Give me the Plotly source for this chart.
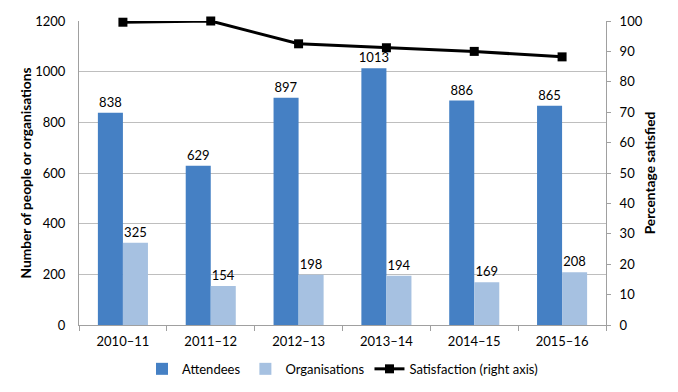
import plotly.graph_objects as go

categories = ["2010–11", "2011–12", "2012–13", "2013–14", "2014–15", "2015–16"]
attendees = [838, 629, 897, 1013, 886, 865]
organisations = [325, 154, 198, 194, 169, 208]
satisfaction = [99.6, 100, 92.5, 91.2, 90.0, 88.2]

FONT = "Lato, Open Sans, sans-serif"

fig = go.Figure()
fig.add_trace(go.Bar(
    x=categories, y=attendees, name="Attendees",
    marker=dict(color="#4580C4", line=dict(width=0)),
    text=[str(v) for v in attendees], textposition="outside",
    constraintext="none",
    textfont=dict(size=13, color="#000000", family=FONT), cliponaxis=False,
))
fig.add_trace(go.Bar(
    x=categories, y=organisations, name="Organisations",
    marker=dict(color="#A6C1E1", line=dict(width=0)),
    text=[str(v) for v in organisations], textposition="outside",
    constraintext="none",
    textfont=dict(size=13, color="#000000", family=FONT), cliponaxis=False,
))
fig.add_trace(go.Scatter(
    x=categories, y=satisfaction, name="Satisfaction (right axis)",
    yaxis="y2", mode="lines+markers",
    line=dict(color="#000000", width=3),
    marker=dict(symbol="square", size=9, color="#000000"),
    cliponaxis=False,
))

fig.update_layout(
    width=670, height=384,
    margin=dict(l=71, r=72, t=13, b=67, autoexpand=False),
    paper_bgcolor="white", plot_bgcolor="white",
    font=dict(family=FONT, size=13, color="#000000"),
    barmode="group", bargap=0.43, bargroupgap=0,
    xaxis=dict(
        automargin=False,
        showline=True, linecolor="#A0A0A0", linewidth=1,
        ticks="outside", tickcolor="#A0A0A0", ticklen=5,
        tickson="boundaries", showgrid=False,
        ticklabelstandoff=4,
        tickfont=dict(size=13, family=FONT),
    ),
    yaxis=dict(
        automargin=False,
        range=[0, 1200], dtick=200,
        showgrid=True, gridcolor="#BEBEBE", gridwidth=1,
        showline=True, linecolor="#A0A0A0", linewidth=1,
        zeroline=False, ticklabelstandoff=10,
        title=dict(text="<b>Number of people or organisations</b>", font=dict(size=13.7, family=FONT), standoff=0),
        tickfont=dict(size=13, family=FONT),
    ),
    yaxis2=dict(
        automargin=False,
        range=[0, 100], dtick=10, overlaying="y", side="right",
        showgrid=False, showline=True, linecolor="#A0A0A0", linewidth=1,
        ticks="outside", tickcolor="#A0A0A0", ticklen=4, zeroline=False,
        ticklabelstandoff=6,
        title=dict(text="<b>Percentage satisfied</b>", font=dict(size=13.7, family=FONT), standoff=3),
        tickfont=dict(size=13, family=FONT),
    ),
    legend=dict(
        orientation="h", x=0.5, xanchor="center", y=-0.095, yanchor="top",
        font=dict(size=13, family=FONT), itemwidth=30,
        traceorder="normal",
    ),
)

fig.write_html("out.html")
